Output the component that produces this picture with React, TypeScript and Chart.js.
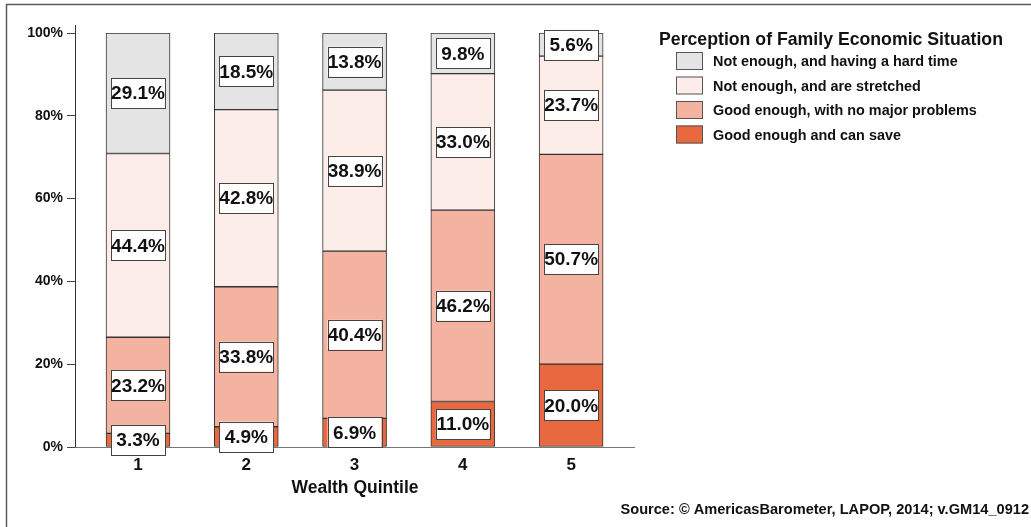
import React, { useEffect, useRef } from "react";
import { Chart, registerables } from "chart.js";

Chart.register(...registerables);

const quintiles = ["1", "2", "3", "4", "5"];
const quintileX = [1, 2, 3, 4, 5];
const canSave = [3.3, 4.9, 6.9, 11.0, 20.0];
const noMajorProblems = [23.2, 33.8, 40.4, 46.2, 50.7];
const stretched = [44.4, 42.8, 38.9, 33.0, 23.7];
const hardTime = [29.1, 18.5, 13.8, 9.8, 5.6];
const yTicks = [0, 20, 40, 60, 80, 100];

const seriesNames = [
  "Good enough and can save",
  "Good enough, with no major problems",
  "Not enough, and are stretched",
  "Not enough, and having a hard time",
];
const seriesColors = ["#e8683f", "#f3b3a0", "#fcede9", "#e4e4e4"];

const FONT = "'Liberation Sans', Arial, Helvetica, sans-serif";

const decorPlugin = {
  id: "decor",
  afterDraw(chart: any) {
    const ctx = chart.ctx as CanvasRenderingContext2D;
    const area = chart.chartArea;
    ctx.save();
    // frame
    ctx.strokeStyle = "#5a5a5a";
    ctx.lineWidth = 1.5;
    ctx.beginPath();
    ctx.moveTo(6.5, 527);
    ctx.lineTo(6.5, 4.5);
    ctx.lineTo(1031, 4.5);
    ctx.stroke();
    // axes
    ctx.lineWidth = 1;
    ctx.strokeStyle = "#333";
    ctx.beginPath();
    ctx.moveTo(area.left + 0.5, area.top - 8);
    ctx.lineTo(area.left + 0.5, area.bottom + 0.5);
    ctx.stroke();
    ctx.strokeStyle = "#777";
    ctx.beginPath();
    ctx.moveTo(area.left, area.bottom + 0.5);
    ctx.lineTo(area.right, area.bottom + 0.5);
    ctx.stroke();

    // axis title
    ctx.fillStyle = "#111";
    ctx.font = `bold 17.5px ${FONT}`;
    ctx.textAlign = "center";
    ctx.textBaseline = "alphabetic";
    ctx.fillText("Wealth Quintile", (area.left + area.right) / 2, 493);

    // legend
    ctx.textAlign = "left";
    ctx.font = `bold 17.7px ${FONT}`;
    ctx.fillText("Perception of Family Economic Situation", 659, 45);
    ctx.font = `bold 14.4px ${FONT}`;
    const order = [3, 2, 1, 0];
    order.forEach((si, row) => {
      const cy = 61 + row * 24.5;
      ctx.fillStyle = seriesColors[si];
      ctx.fillRect(676, cy - 9, 27, 18);
      ctx.strokeStyle = "#555";
      ctx.lineWidth = 1;
      ctx.strokeRect(676.5, cy - 8.5, 26, 17);
      ctx.fillStyle = "#111";
      ctx.fillText(seriesNames[si], 713, cy + 5);
    });

    // source
    ctx.textAlign = "right";
    ctx.font = `bold 14.6px ${FONT}`;
    ctx.fillText("Source:\u00A0\u00A9 AmericasBarometer, LAPOP, 2014; v.GM14_0912", 1029, 514);

    // value labels
    ctx.font = `bold 19px ${FONT}`;
    ctx.textAlign = "center";
    ctx.textBaseline = "middle";
    chart.data.datasets.forEach((ds: any, di: number) => {
      const meta = chart.getDatasetMeta(di);
      meta.data.forEach((el: any, i: number) => {
        const cx = el.x;
        const cy = (el.y + el.base) / 2;
        const w = 54;
        const h = 30;
        ctx.fillStyle = "#fff";
        ctx.fillRect(cx - w / 2, cy - h / 2, w, h);
        ctx.strokeStyle = "#444";
        ctx.lineWidth = 1;
        ctx.strokeRect(Math.round(cx - w / 2) + 0.5, Math.round(cy - h / 2) + 0.5, w, h);
        ctx.fillStyle = "#111";
        ctx.fillText(ds.data[i].y.toFixed(1) + "%", cx, cy + 1);
      });
    });
    ctx.restore();
  },
};

export default function App() {
  const ref = useRef<HTMLCanvasElement | null>(null);
  useEffect(() => {
    if (!ref.current) return;
    const series = [canSave, noMajorProblems, stretched, hardTime];
    const chart = new Chart(ref.current, {
      type: "bar",
      data: {
        datasets: series.map((vals, si) => ({
          label: seriesNames[si],
          data: vals.map((v, i) => ({ x: quintileX[i], y: v })),
          backgroundColor: seriesColors[si],
          borderColor: "#333",
          borderWidth: 1,
          borderSkipped: false,
          barThickness: 64,
        })),
      },
      options: {
        animation: false,
        responsive: false,
        devicePixelRatio: 1,
        layout: { padding: { left: 0, top: 33, right: 396, bottom: 0 } },
        plugins: { legend: { display: false }, tooltip: { enabled: false } },
        scales: {
          x: {
            type: "linear",
            stacked: true,
            offset: false,
            min: 0.418,
            max: 5.59,
            afterBuildTicks: (scale: any) => {
              scale.ticks = quintileX.map((v) => ({ value: v }));
            },
            afterFit: (scale: any) => {
              scale.height = 80;
            },
            grid: { display: false, drawTicks: false, offset: false },
            border: { display: false },
            ticks: {
              padding: 8,
              color: "#111",
              font: { family: FONT, size: 17, weight: "bold" },
              callback: (v: any) => quintiles[quintileX.indexOf(Number(v))] ?? "",
            },
          },
          y: {
            stacked: true,
            min: 0,
            max: 100,
            afterBuildTicks: (scale: any) => {
              scale.ticks = yTicks.map((v) => ({ value: v }));
            },
            afterFit: (scale: any) => {
              scale.width = 75;
            },
            grid: { drawOnChartArea: false, drawTicks: true, tickLength: 8, color: "#444" },
            border: { display: false },
            ticks: {
              padding: 4,
              color: "#111",
              font: { family: FONT, size: 14, weight: "bold" },
              callback: (v: any) => v + "%",
            },
          },
        },
      },
      plugins: [decorPlugin],
    });
    return () => chart.destroy();
  }, []);
  return (
    <div style={{ position: "fixed", left: 0, top: 0, width: 1031, height: 527, background: "#fff" }}>
      <canvas ref={ref} width={1031} height={527} style={{ display: "block" }} />
    </div>
  );
}
